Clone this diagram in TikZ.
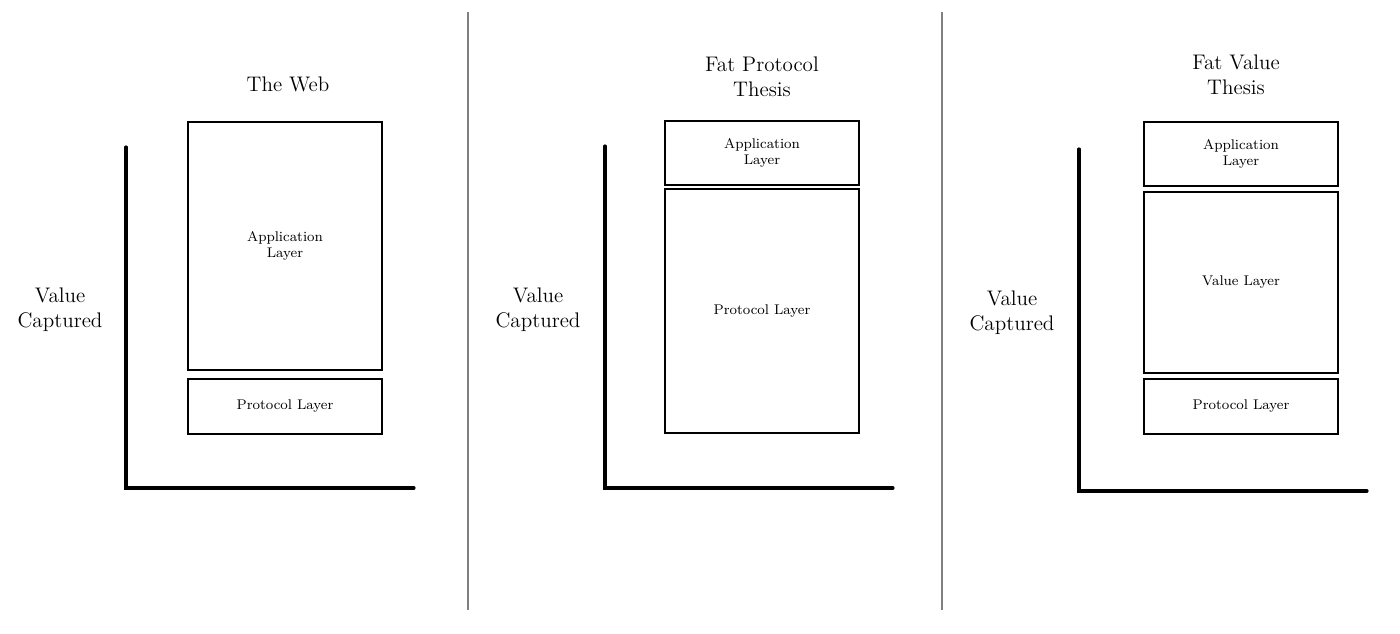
\documentclass[tikz,border=0pt]{standalone}
\usetikzlibrary{positioning}
\tikzset{
  layer/.style={draw, line width=0.8pt, minimum width=3.88cm, align=center, font=\footnotesize, inner sep=0pt},
  axis/.style={line width=1.8pt, line cap=round},
  heading/.style={align=center, font=\large},
  ylabel/.style={align=center, font=\large},
  divider/.style={draw=gray, line width=0.6pt}
}
\begin{document}
\begin{tikzpicture}[x=0.02cm, y=-0.02cm]
			\useasboundingbox [fill=white] (0,0) rectangle (1400,634);
			% dividers
			\draw [divider] (468,12) -- (468,610);
			\draw [divider] (942,12) -- (942,610);
			% the web
			\node [heading] (webtitle) at (288,84) {The Web};
			\node [ylabel] (webvalue) at (60,310) {Value\\Captured};
			\coordinate (webtop) at (126,147);
			\coordinate (weborigin) at (126,488);
			\coordinate (webright) at (414,488);
			\draw [axis] (webtop) -- (weborigin) -- (webright);
			\node [layer, minimum height=4.96cm] (webapp) at (285,246) {Application\\Layer};
			\node [layer, minimum height=1.1cm] (webproto) at (285,406.5) {Protocol Layer};
			% fat protocol thesis
			\node [heading] (fptitle) at (762,77) {Fat Protocol\\Thesis};
			\node [ylabel] (fpvalue) at (538,310) {Value\\Captured};
			\coordinate (fptop) at (605,146);
			\coordinate (fporigin) at (605,488);
			\coordinate (fpright) at (893,488);
			\draw [axis] (fptop) -- (fporigin) -- (fpright);
			\node [layer, minimum height=1.28cm] (fpapp) at (762,153) {Application\\Layer};
			\node [layer, minimum height=4.88cm] (fpproto) at (762,311) {Protocol Layer};
			% fat value thesis
			\node [heading] (fvtitle) at (1236,75) {Fat Value\\Thesis};
			\node [ylabel] (fvvalue) at (1012,313) {Value\\Captured};
			\coordinate (fvtop) at (1079,149);
			\coordinate (fvorigin) at (1079,491);
			\coordinate (fvright) at (1367,491);
			\draw [axis] (fvtop) -- (fvorigin) -- (fvright);
			\node [layer, minimum height=1.28cm] (fvapp) at (1241,154) {Application\\Layer};
			\node [layer, minimum height=3.62cm] (fvvaluelayer) at (1241,282.5) {Value Layer};
			\node [layer, minimum height=1.1cm] (fvproto) at (1241,406.5) {Protocol Layer};
\end{tikzpicture}
\end{document}
